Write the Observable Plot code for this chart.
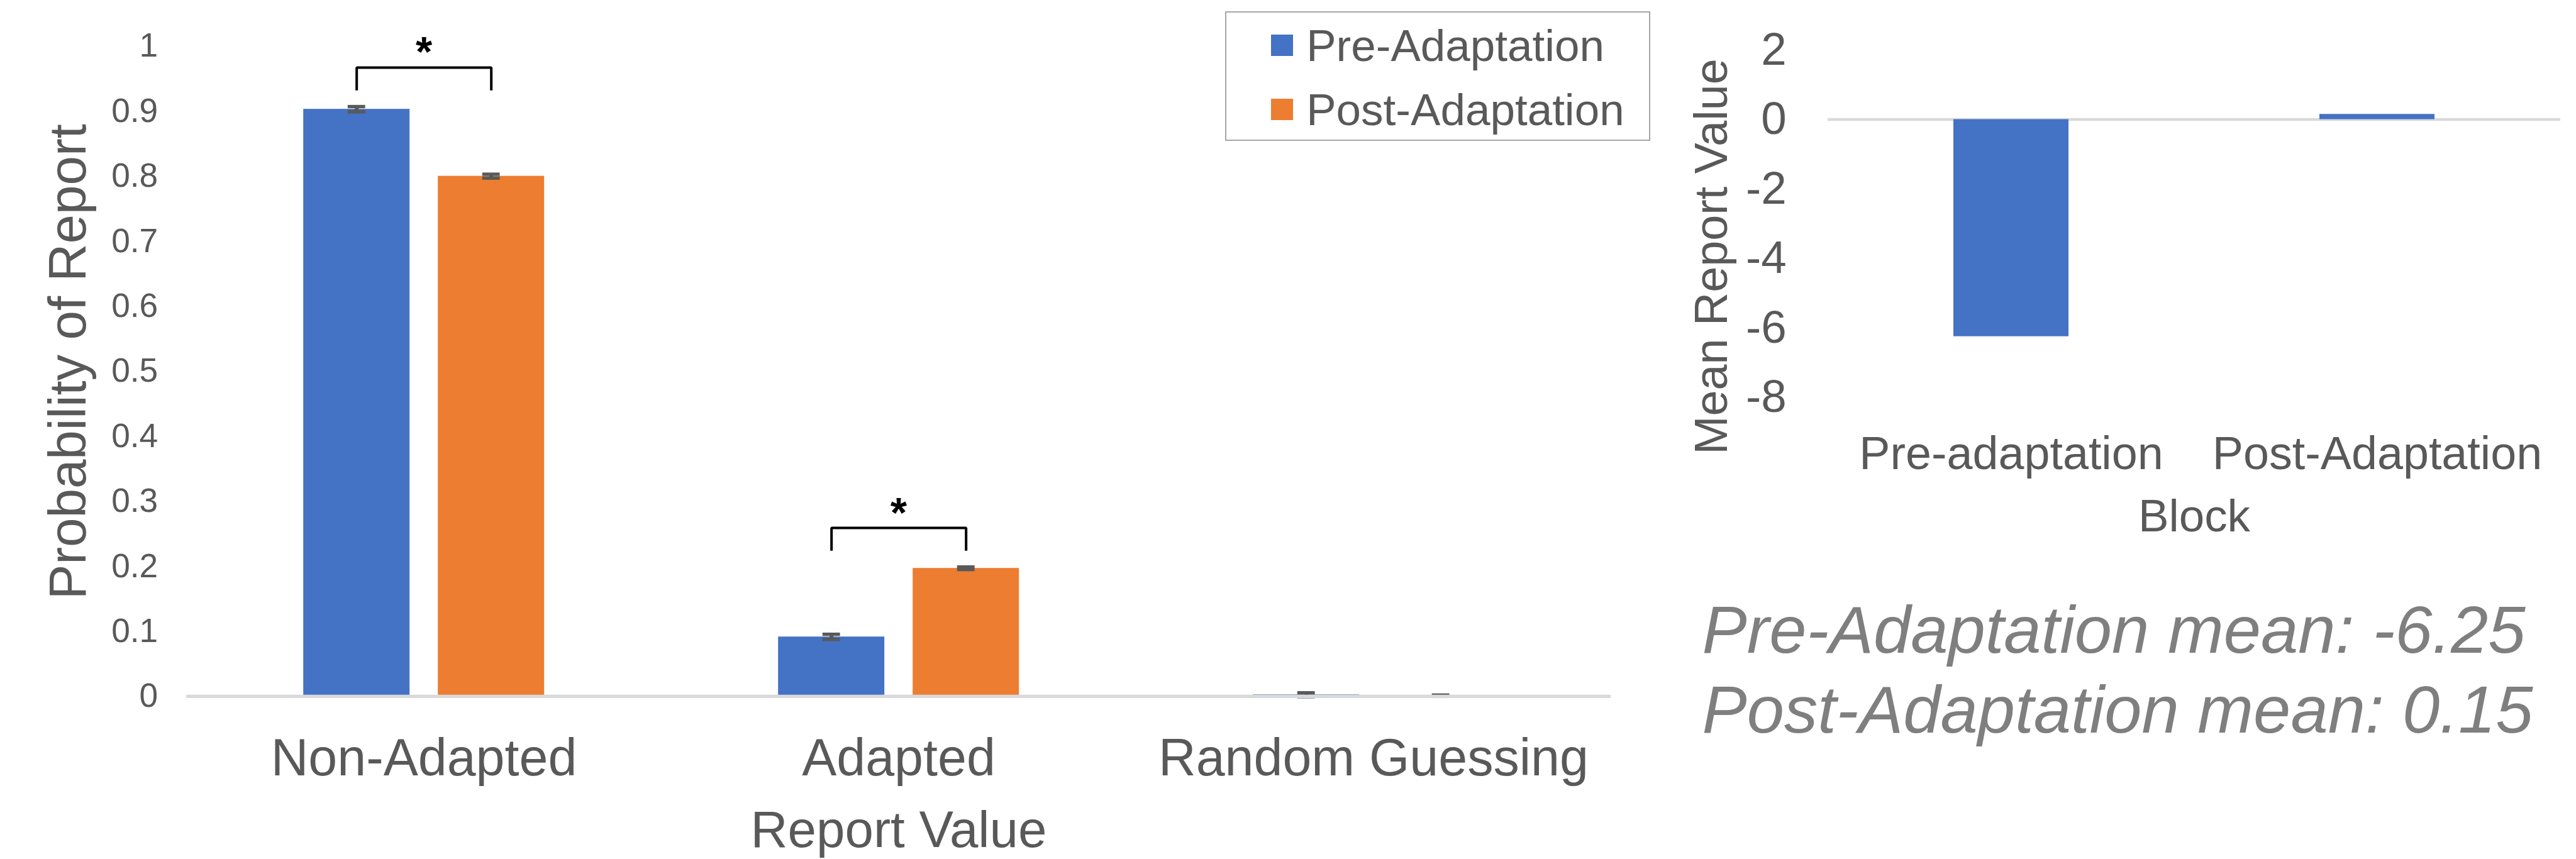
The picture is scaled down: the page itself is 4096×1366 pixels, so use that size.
<!DOCTYPE html>
<html>
<head>
<meta charset="utf-8">
<script src="https://cdn.jsdelivr.net/npm/d3@7"></script>
<script src="https://cdn.jsdelivr.net/npm/@observablehq/plot@0.6"></script>
<style>
  html, body { margin: 0; padding: 0; background: #fff; }
  body { width: 4096px; height: 1366px; overflow: hidden; position: relative;
         font-family: "Liberation Sans", Arial, sans-serif; }
  .abs { position: absolute; }
</style>
</head>
<body>
<div id="main" class="abs"></div>
<div id="legend" class="abs"></div>
<div id="right" class="abs"></div>
<div id="note" class="abs"></div>
<script>
// ---------- data ----------
const categories = ["Non-Adapted", "Adapted", "Random Guessing"];
const series = ["Pre-Adaptation", "Post-Adaptation"];
const preValues = [0.903, 0.0915, 0.0025];
const postValues = [0.800, 0.197, 0.001];
const preErrors = [0.004, 0.004, 0.003];
const postErrors = [0.003, 0.002, 0.001];
const significant = ["Non-Adapted", "Adapted"];
const yTicks = [0, 0.1, 0.2, 0.3, 0.4, 0.5, 0.6, 0.7, 0.8, 0.9, 1];
const seriesColors = ["#4472C4", "#ED7D31"];

const blockCategories = ["Pre-adaptation", "Post-Adaptation"];
const blockMeans = [-6.25, 0.15];
const blockTicks = [-8, -6, -4, -2, 0, 2];
const noteLabels = ["Pre-Adaptation mean: ", "Post-Adaptation mean: "];

// ---------- layout ----------
const S = 0.888;
const GRAY = "#595959";
const FONT = "'Liberation Sans', Arial, sans-serif";

const rows = [];
categories.forEach((c, i) => {
  rows.push({category: c, series: series[0], value: preValues[i], error: preErrors[i]});
  rows.push({category: c, series: series[1], value: postValues[i], error: postErrors[i]});
});

const brackets = [];
const stars = [];
significant.forEach(c => {
  const r = rows.filter(d => d.category === c);
  const top = d3.max(r, d => d.value + d.error) + 0.06;
  const leg = top - 0.035;
  brackets.push(
    {category: c, series: series[0], y: leg},
    {category: c, series: series[0], y: top},
    {category: c, series: series[1], y: top},
    {category: c, series: series[1], y: leg}
  );
  stars.push({category: c, y: top});
});

const main = Plot.plot({
  width: 2960 * S,
  height: 1537 * S,
  marginLeft: 332 * S,
  marginRight: 75 * S,
  marginTop: 82 * S,
  marginBottom: 290.5 * S,
  style: {fontFamily: FONT, color: GRAY, background: "transparent", overflow: "visible"},
  fx: {domain: categories, padding: 0, label: null},
  x: {domain: series, paddingInner: 0.21, paddingOuter: 0.863, axis: null},
  y: {domain: [0, 1], axis: null},
  color: {domain: series, range: seriesColors},
  marks: [
    Plot.barY(rows, {fx: "category", x: "series", y: "value", fill: "series"}),
    Plot.ruleX(rows, {fx: "category", x: "series", y1: d => d.value - d.error, y2: d => d.value + d.error,
      stroke: GRAY, strokeWidth: 7 * S}),
    Plot.tickY(rows, {fx: "category", x: "series", y: d => d.value - d.error, stroke: GRAY,
      strokeWidth: 6 * S, insetLeft: 79.5 * S, insetRight: 79.5 * S}),
    Plot.tickY(rows, {fx: "category", x: "series", y: d => d.value + d.error, stroke: GRAY,
      strokeWidth: 6 * S, insetLeft: 79.5 * S, insetRight: 79.5 * S}),
    Plot.ruleY([0], {stroke: "#d9d9d9", strokeWidth: 6 * S}),
    Plot.line(brackets, {fx: "category", x: "series", y: "y", z: "category", stroke: "black",
      strokeWidth: 4.5 * S, strokeLinejoin: "miter", strokeLinecap: "butt"}),
    Plot.text(stars, {fx: "category", y: "y", text: () => "*", fill: "black", fontWeight: "bold",
      fontSize: 76 * S, lineAnchor: "middle", dy: -0.32 * 76 * S - 2}),
    Plot.axisY({ticks: yTicks, tickSize: 0, tickPadding: 51 * S, fontSize: 60 * S,
      tickFormat: d => String(d), label: null}),
    Plot.axisFx({anchor: "bottom", tickSize: 0, tickPadding: 75.5 * S, fontSize: 93 * S, label: null}),
    Plot.text(["Probability of Report"], {fx: ["Non-Adapted"], frameAnchor: "left", rotate: -90,
      textAnchor: "middle", lineAnchor: "middle", dx: (121 - 332) * S, dy: (647 - 664) * S, fontSize: 94 * S}),
    Plot.text(["Report Value"], {fx: ["Adapted"], frameAnchor: "bottom", lineAnchor: "top",
      dy: (1451 - 1246.5) * S, fontSize: 92 * S})
  ]
});
document.getElementById("main").append(main);

// ---------- legend ----------
const legend = document.getElementById("legend");
Object.assign(legend.style, {
  left: (2194 * S) + "px", top: (20 * S) + "px",
  width: ((2955 - 2194) * S) + "px", height: ((252 - 20) * S) + "px",
  border: (3 * S) + "px solid #a6a6a6", boxSizing: "border-box", background: "#fff"
});
const rowCenters = [59, 174];
series.forEach((s, i) => {
  const rowH = 90 * S;
  const row = document.createElement("div");
  Object.assign(row.style, {
    position: "absolute", left: (80 * S) + "px", top: (rowCenters[i] * S - rowH / 2) + "px",
    height: rowH + "px", display: "flex", alignItems: "center", whiteSpace: "nowrap"
  });
  const sw = document.createElement("span");
  Object.assign(sw.style, {display: "inline-block", width: (39 * S) + "px", height: (38 * S) + "px",
    background: seriesColors[i], marginRight: (24 * S) + "px"});
  const tx = document.createElement("span");
  Object.assign(tx.style, {fontSize: (80 * S) + "px", color: GRAY, lineHeight: 1});
  tx.textContent = s;
  row.append(sw, tx);
  legend.append(row);
});

// ---------- right chart ----------
const blockRows = blockCategories.map((b, i) => ({block: b, mean: blockMeans[i]}));
const right = Plot.plot({
  width: 1649 * S,
  height: 1000 * S,
  marginLeft: 313 * S,
  marginRight: 24 * S,
  marginTop: 89 * S,
  marginBottom: (1000 - 711) * S,
  style: {fontFamily: FONT, color: GRAY, background: "transparent", overflow: "visible"},
  x: {domain: blockCategories, paddingInner: 0.686, paddingOuter: 0.343, axis: null},
  y: {domain: [-8, 2], axis: null},
  marks: [
    Plot.ruleY([0], {stroke: "#d9d9d9", strokeWidth: 5 * S}),
    Plot.barY(blockRows, {x: "block", y: "mean", fill: seriesColors[0]}),
    Plot.axisY({ticks: blockTicks, tickSize: 0, tickPadding: 74 * S, fontSize: 82 * S,
      tickFormat: d => String(d), label: null}),
    Plot.axisX({tickSize: 0, tickPadding: 70 * S, fontSize: 83 * S, label: null}),
    Plot.text(["Block"], {frameAnchor: "bottom", lineAnchor: "top", dy: (893 - 711) * S, fontSize: 82 * S}),
    Plot.text(["Mean Report Value"], {frameAnchor: "left", rotate: -90, textAnchor: "middle", lineAnchor: "middle",
      dx: (3066 - 3273) * S, dy: (459 - 400) * S, fontSize: 83 * S})
  ]
});
const rightDiv = document.getElementById("right");
rightDiv.style.left = (2960 * S) + "px";
rightDiv.style.top = "0px";
rightDiv.append(right);

// ---------- note ----------
const note = document.getElementById("note");
const fs = 120 * S, lh = 143 * S;
Object.assign(note.style, {
  left: (3048 * S) + "px", top: (1170 * S - (lh - 1.117 * fs) / 2 - 0.905 * fs) + "px",
  fontSize: fs + "px", lineHeight: lh + "px", fontStyle: "italic", color: "#7f7f7f", whiteSpace: "nowrap"
});
note.innerHTML = blockMeans.map((m, i) => `<div>${noteLabels[i]}${m}</div>`).join("");
</script>
</body>
</html>
